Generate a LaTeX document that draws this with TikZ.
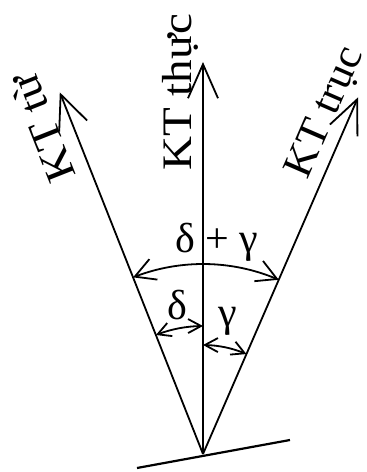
\documentclass[tikz,border=0pt]{standalone}
\usepackage{fontspec}
\setmainfont{Liberation Serif}
\usetikzlibrary{arrows.meta, bending}

\begin{document}
\begin{tikzpicture}[
  x=0.5pt, y=0.5pt,
  axis/.style={-{Straight Barb[length=17pt, width=15pt]}, line width=0.9pt},
  bigarc/.style={{Straight Barb[length=10pt, width=11pt]}-{Straight Barb[length=10pt, width=11pt]},
                 line width=0.9pt},
  smallarc/.style={{Straight Barb[length=6.5pt, width=7pt]}-{Straight Barb[length=6.5pt, width=7pt]},
                   line width=0.9pt},
  ground/.style={line width=1.1pt},
  lbl/.style={font=\fontsize{21}{25}\selectfont, inner sep=0pt},
  axlbl/.style={lbl, anchor=base, xscale=1.12}
]

\useasboundingbox (-203,-18) rectangle (163,454);

% base point and the three directions
\coordinate (O)     at (0,0);
\coordinate (tu)    at (111.6:389);
\coordinate (thuc)  at (90:392);
\coordinate (truc)  at (66.5:389);
\coordinate (gl)    at (-66,-14);
\coordinate (gr)    at (87,14);

\draw[ground] (gl) -- (gr);
\draw[axis]   (O) -- (tu);
\draw[axis]   (O) -- (thuc);
\draw[axis]   (O) -- (truc);

% angle arcs
\draw[bigarc]   (111.6:190) arc[start angle=111.6, end angle=66.5, radius=190];
\draw[smallarc] (111.6:128) arc[start angle=111.6, end angle=90,   radius=128];
\draw[smallarc] (90:109)    arc[start angle=90,    end angle=66.5, radius=109];

% labels along the axes
\node[rotate=111.6, axlbl]              (ltu)   at ([shift={(111.6:362)}] 201.6:15) {KT từ};
\node[rotate=90,    axlbl]              (lthuc) at ([shift={(90:362)}]    180:11)   {KT thực};
\node[rotate=66.5,  axlbl, xscale=0.94] (ltruc) at ([shift={(66.5:362)}]  156.5:13) {KT trục};

% angle labels
\node[lbl, anchor=base] (ldg) at (14,201)  {δ + γ};
\node[lbl, anchor=base] (ld)  at (-26,134) {δ};
\node[lbl, anchor=base] (lg)  at (25,127)  {γ};

\end{tikzpicture}
\end{document}
